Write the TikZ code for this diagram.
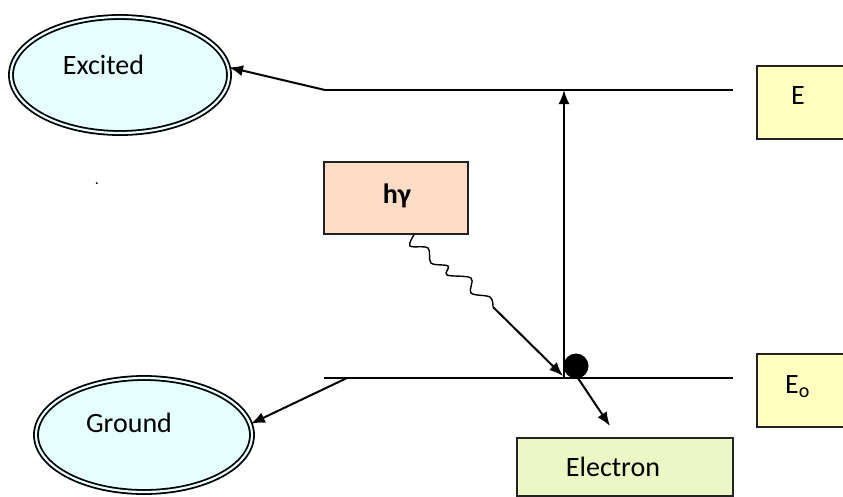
\documentclass[tikz,border=0pt]{standalone}
\usepackage{fontspec}
\setmainfont{Carlito}
\usetikzlibrary{shapes.geometric,arrows.meta}
\definecolor{ecyan}{HTML}{E6FFFF}
\definecolor{epeach}{HTML}{FCDCC5}
\definecolor{eyellow}{HTML}{FFFFC0}
\definecolor{egreen}{HTML}{EBF8C6}
\definecolor{eborder}{HTML}{222222}
\begin{document}
\begin{tikzpicture}[x=1pt,y=-1pt,
  every node/.style={font=\fontsize{28}{32}\selectfont},
  state/.style={ellipse,draw=black,double=ecyan,double distance=2.2pt,line width=1.8pt,fill=ecyan,inner sep=0pt},
  levelbox/.style={rectangle,draw=eborder,line width=1.8pt,inner sep=0pt},
  level/.style={line width=2pt},
  arr/.style={line width=2pt,-{Latex[length=14pt,width=11pt]}},
  txt/.style={inner sep=0pt}
]
\useasboundingbox (0,0) rectangle (843,496);
% states
\node[state,minimum width=218pt,minimum height=116pt] (excited) at (120,75) {};
\node[txt] (excitedtxt) at (103.5,64.5) {Excited};
\node[state,minimum width=216pt,minimum height=114pt] (ground) at (144,435) {};
\node[txt] (groundtxt) at (129,423) {Ground};
% boxes
\node[levelbox,fill=eyellow,minimum width=100pt,minimum height=73pt,anchor=north west] (ebox) at (756,65) {};
\node[txt] (etxt) at (798,96) {E};
\node[levelbox,fill=eyellow,minimum width=100pt,minimum height=73pt,anchor=north west] (eobox) at (756,353) {};
\node[txt,anchor=base west] (eotxt) at (785,393) {E\raisebox{-4pt}{\fontsize{20}{22}\selectfont o}};
\node[levelbox,fill=epeach,minimum width=144pt,minimum height=72pt] (hg) at (396,198) {};
\node[txt] (hgtxt) at (397,196) {\bfseries hγ};
\node[levelbox,fill=egreen,minimum width=216pt,minimum height=58pt,anchor=north west] (ebox2) at (516,437) {};
\node[txt] (electxt) at (613,467) {Electron};
\node[txt,font=\fontsize{16}{18}\selectfont] (dottxt) at (97,184) {.};
% level lines
\coordinate (u1) at (325,90);
\coordinate (u2) at (733,90);
\coordinate (l1) at (324,378);
\coordinate (l2) at (733,378);
\coordinate (g1) at (347,378);
\coordinate (va1) at (564,378);
\coordinate (va2) at (564,90);
\draw[level] (u1) -- (u2);
\draw[level] (l1) -- (l2);
% electron dot
\node[circle,fill=black,minimum size=25pt,inner sep=0pt] (dot) at (576,366) {};
% arrows
\draw[arr] (u1) -- (excited.4);
\draw[arr] (g1) -- (ground.6);
\draw[arr] (va1) -- (va2);
\coordinate (etip) at (610,426);
\draw[arr] (dot.-80) -- (etip);
% photon
\coordinate (ph0) at ([xshift=18pt]hg.south);
\coordinate (ph1) at (493,307);
\coordinate (ph2) at (563,376);
\draw[line width=1.4pt] plot[smooth,tension=0.55] coordinates {(ph0) (410,246) (428,248) (431,263) (448,266) (447,275) (471,278) (471,293) (490,297) (ph1)};
\draw[arr] (ph1) -- (ph2);
\end{tikzpicture}
\end{document}
